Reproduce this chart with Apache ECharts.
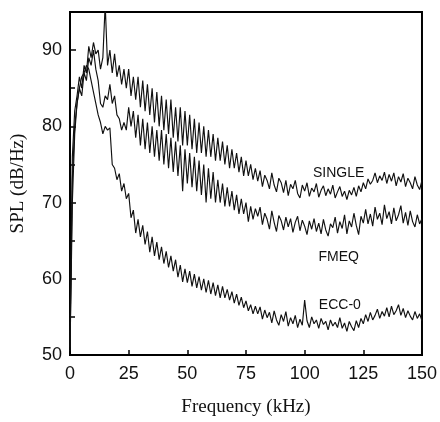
<!DOCTYPE html>
<html>
<head>
<meta charset="utf-8">
<script src="https://cdn.jsdelivr.net/npm/echarts@6/dist/echarts.min.js"></script>
<style>
  html, body { margin: 0; padding: 0; background: #fff; }
  #chart { width: 440px; height: 422px; }
</style>
</head>
<body>
<div id="chart"></div>
<script>
var stepKHz = 1;
var xTicks = [0, 25, 50, 75, 100, 125, 150];
var yTicks = [50, 60, 70, 80, 90];

var single = [
    52, 76, 82, 84, 86.5, 85, 88, 87, 90.5, 89,
    91, 89.5, 90, 87.5, 89, 96, 88, 90, 87, 89.5,
    86.5, 88, 85.5, 87.5, 85, 87.5, 84, 86.5, 83.5, 86.5,
    82.5, 86, 82, 85.5, 81.5, 85, 80.5, 84.5, 80, 84,
    79.5, 83.5, 79, 83.5, 78.5, 82.5, 78, 82.5, 77.5, 82,
    77.5, 81.5, 77, 81, 76.5, 80.5, 76.5, 80, 76, 79.5,
    76, 79, 75.5, 78.5, 75.5, 78, 75, 77.5, 74.5, 77,
    74.5, 76.5, 74, 76, 73.5, 75.5, 73.5, 75, 73, 74.5,
    72.8, 74.2, 72.1, 73.6, 72.9, 71.8, 73.9, 72.3, 71.4, 73.2,
    72.6, 71.3, 72.9, 70.9, 72.4, 71.8, 72.9, 71.2, 70.6, 72.3,
    71.5, 72.6, 70.8, 71.9, 71.4, 72.5, 70.7, 71.6, 72.2, 70.9,
    71.8, 71.1, 72.3, 70.6, 71.4, 72.1, 70.8, 71.5, 70.4, 71.6,
    71.0, 72.0, 70.8, 72.2, 71.4, 72.6, 71.8, 73.1, 72.4, 72.9,
    73.9, 72.6, 73.5, 72.9, 74.0, 72.5, 73.7, 72.8, 73.9, 72.2,
    73.4, 72.7, 73.8, 72.1, 73.2, 72.6, 71.8, 73.4, 72.3, 71.7,
    72.9
];

var fmeq = [
    51, 73, 80, 83, 85, 84, 87, 86, 89, 88,
    90, 87.5, 86, 83, 82.5, 84, 83.5, 85.5, 83, 84,
    81.5, 81, 79.5, 80.5, 79.5, 82.5, 80, 82, 78.5, 81.5,
    77.5, 81, 77, 80.5, 76.5, 80, 76, 79.5, 75.5, 79.5,
    75, 79, 74.5, 78.5, 74, 78, 73.5, 77.5, 71.5, 77,
    72.5, 76.5, 72, 76, 71.5, 75.5, 71, 75, 70, 74.5,
    70.5, 74, 70, 73, 70, 72.5, 69.5, 72, 69.5, 71.5,
    69, 71, 68.5, 70.5, 68.5, 70, 67.5, 69.5, 67.8, 69.2,
    68.2, 69.4, 67.1, 68.6, 67.8, 66.5, 68.9, 67.4, 66.2, 68.3,
    67.6, 66.4, 68.1, 66.8, 67.9, 66.1, 67.4, 68.2, 66.3, 67.7,
    66.9, 65.8, 67.6, 66.5, 67.9, 66.2, 67.3, 65.9, 67.8, 66.4,
    65.6, 67.2, 66.7, 68.1, 66.0, 67.5, 66.6, 68.4, 65.9, 67.6,
    66.8, 68.6, 67.0, 65.8, 68.2, 67.3, 69.1, 67.2, 68.5, 66.9,
    69.4, 67.8, 68.6, 67.1, 69.7, 67.9, 68.8, 67.2, 69.3, 67.6,
    68.4, 69.6, 67.3, 68.7, 67.0, 68.9, 67.5, 66.8, 68.4, 67.2,
    67.9
];

var ecc0 = [
    50.5, 70, 79, 83, 85, 86.5, 87, 88, 87.5, 86,
    84.5, 83, 81.5, 80.5, 79, 80, 79.5, 79.8, 75, 74.5,
    73, 73.8, 71.5, 72.5, 70.5, 71.2, 68, 69, 66, 67.8,
    65.5, 67, 64.5, 66.2, 63.5, 65.5, 63, 64.8, 62.5, 64.2,
    62, 63.6, 61.5, 63, 61, 62.5, 60.2, 61.8, 59.6, 61.3,
    59.5, 61, 59, 60.6, 58.8, 60.3, 58.5, 60, 58.2, 59.8,
    58, 59.5, 57.8, 59.2, 57.5, 59, 57.5, 58.6, 57.2, 58.3,
    56.8, 58, 56.5, 57.6, 56.2, 57.1, 55.8, 56.6, 55.4, 56.4,
    55.4, 56.3, 54.7, 55.9, 54.9, 55.6, 54.2, 55.8, 54.6, 53.9,
    55.3, 54.4, 55.7, 53.8, 54.9, 54.1, 55.2, 53.6, 54.7, 53.9,
    57.2, 54.5, 53.6, 55.0, 54.1, 54.6, 53.5, 54.8, 54.0, 54.4,
    53.3, 54.6, 53.8, 54.3, 53.6, 54.9, 53.5, 54.2, 53.1, 54.4,
    53.7, 53.2, 54.5, 53.6, 54.8, 54.1, 55.3, 54.4, 55.6, 54.6,
    55.2, 56.0, 54.8, 55.7, 55.1, 56.2, 55.0, 56.4, 55.3, 55.8,
    56.6, 55.2, 56.1, 54.9, 55.8, 55.1, 54.6, 55.7, 54.8, 55.4,
    54.5
];

// curve labels: [text, freq, level]
var curveLabels = [
    ['SINGLE', 114.5, 73.9],
    ['FMEQ', 114.5, 62.8],
    ['ECC-0', 115, 56.6]
];

function toPairs(values) {
    return values.map(function (v, i) { return [i * stepKHz, v]; });
}

function lineSeries(name, values, label) {
    var s = {
        name: name,
        type: 'line',
        data: toPairs(values),
        showSymbol: false,
        symbol: 'none',
        clip: true,
        animation: false,
        lineStyle: { color: '#111', width: 1.15 }
    };
    if (label) {
        s.markPoint = {
            symbol: 'circle',
            symbolSize: 0,
            animation: false,
            data: [{
                coord: [label[1], label[2]],
                label: {
                    show: true,
                    position: 'inside',
                    formatter: label[0],
                    color: '#111',
                    fontFamily: 'Liberation Sans, Arial, sans-serif',
                    fontSize: 14
                }
            }]
        };
    }
    return s;
}

var axisFont = 'Liberation Sans, Arial, sans-serif';
var nameFont = 'Liberation Serif, Times New Roman, serif';

var option = {
    backgroundColor: '#fff',
    animation: false,
    grid: {
        left: 70, right: 17, top: 12, bottom: 60,
        show: true, borderColor: '#000', borderWidth: 2
    },
    xAxis: {
        type: 'value',
        min: xTicks[0],
        max: xTicks[xTicks.length - 1],
        interval: 25,
        name: 'Frequency (kHz)',
        nameLocation: 'middle',
        nameGap: 43,
        nameTextStyle: { fontFamily: nameFont, fontSize: 19, color: '#111' },
        axisLine: { lineStyle: { color: '#000', width: 2 } },
        axisTick: { inside: true, length: 5, lineStyle: { color: '#000', width: 1.5 } },
        axisLabel: { margin: 10, fontFamily: axisFont, fontSize: 18, color: '#111' },
        splitLine: { show: false }
    },
    yAxis: {
        type: 'value',
        min: yTicks[0],
        max: 95,
        interval: 10,
        name: 'SPL (dB/Hz)',
        nameLocation: 'middle',
        nameGap: 42,
        nameTextStyle: { fontFamily: nameFont, fontSize: 19, color: '#111' },
        axisLine: { lineStyle: { color: '#000', width: 2 } },
        axisTick: { inside: true, length: 6, lineStyle: { color: '#000', width: 1.5 } },
        minorTick: { show: true, splitNumber: 2, length: 5, lineStyle: { color: '#000', width: 1.5 } },
        axisLabel: {
            margin: 8, fontFamily: axisFont, fontSize: 18, color: '#111',
            showMaxLabel: false,
            formatter: function (v) { return yTicks.indexOf(v) >= 0 ? String(v) : ''; }
        },
        splitLine: { show: false }
    },
    series: [
        lineSeries('SINGLE', single, curveLabels[0]),
        lineSeries('FMEQ', fmeq, curveLabels[1]),
        lineSeries('ECC-0', ecc0, curveLabels[2])
    ]
};

var chart = echarts.init(document.getElementById('chart'));
chart.setOption(option);
</script>
</body>
</html>
